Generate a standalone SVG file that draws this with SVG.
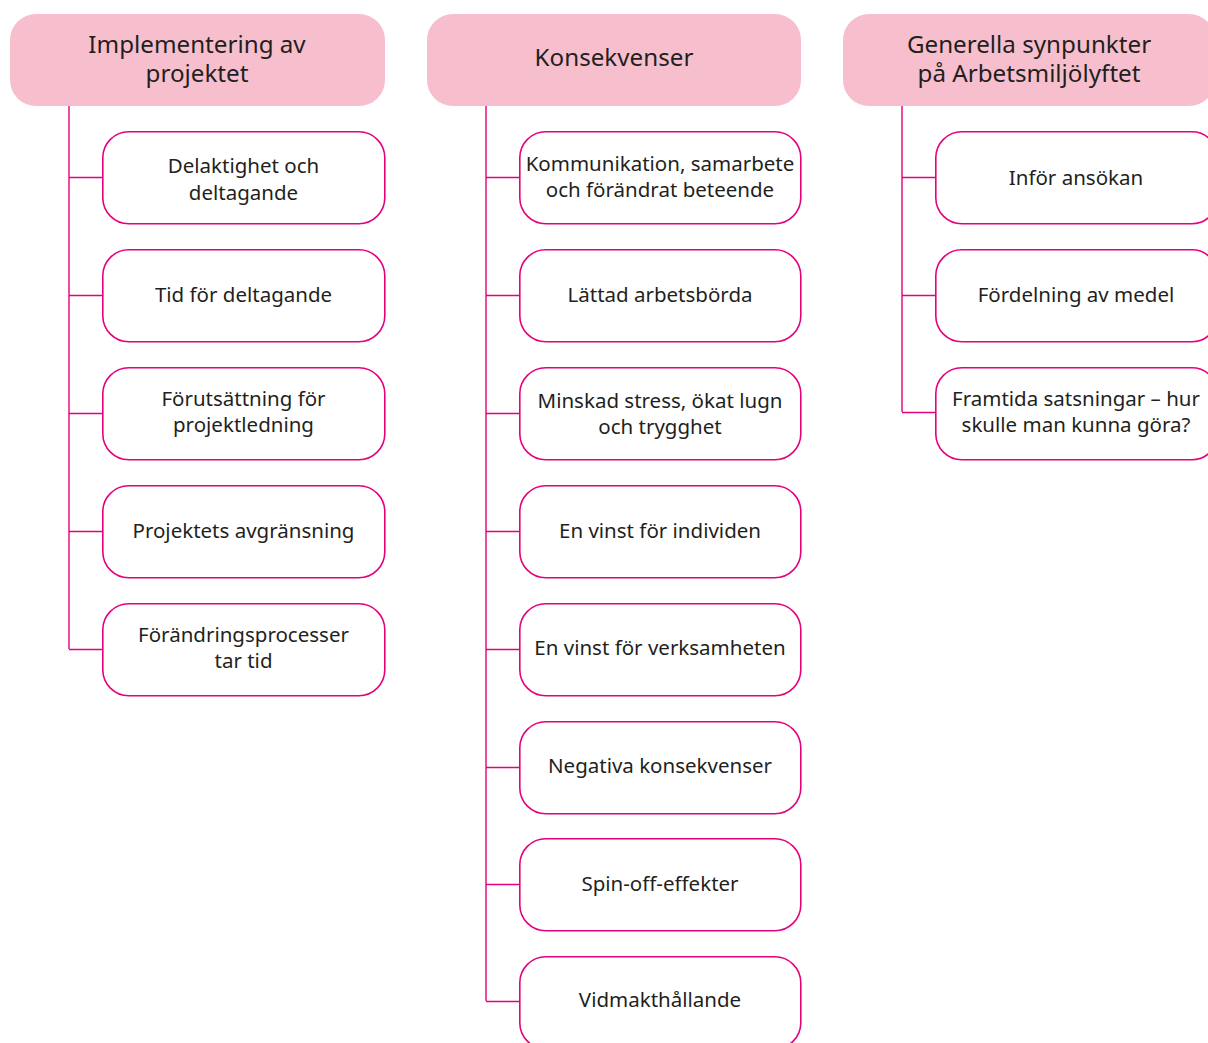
<svg xmlns="http://www.w3.org/2000/svg" width="1208" height="1043" viewBox="0 0 1208 1043">
<style>
.hdr{fill:#f7bfcd;stroke:none}
.box{fill:#ffffff;stroke:#e5007d;stroke-width:1.6}
.ln{fill:none;stroke:#e5007d;stroke-width:1.4}
text{font-family:"Noto Sans","Open Sans",sans-serif;fill:#231f20;text-anchor:middle}
.ht{font-size:24.2px}
.ct{font-size:20.5px}
</style>
<rect width="1208" height="1043" fill="#ffffff"/>
<g id="connectors">
<path class="ln" d="M69,106V649M69,177.5H102M69,295.5H102M69,413.5H102M69,531.5H102M69,649.5H102"/>
<path class="ln" d="M486,106V1001M486,177.5H519M486,295.5H519M486,413.5H519M486,531.5H519M486,649.5H519M486,767.5H519M486,884.5H519M486,1001.5H519"/>
<path class="ln" d="M902,106V412M902,177.5H935M902,295.5H935M902,412.5H935"/>
</g>
<g id="h1"><rect class="hdr" x="10" y="14" width="375" height="92" rx="26"/><text class="ht" x="197" y="53">Implementering av</text><text class="ht" x="197" y="82">projektet</text></g>
<g id="h2"><rect class="hdr" x="427" y="14" width="374" height="92" rx="26"/><text class="ht" x="614" y="66">Konsekvenser</text></g>
<g id="h3"><rect class="hdr" x="843" y="14" width="372" height="92" rx="26"/><text class="ht" x="1029" y="53">Generella synpunkter</text><text class="ht" x="1029" y="82">på Arbetsmiljölyftet</text></g>

<g id="a1"><rect class="box" x="102.8" y="131.8" width="282" height="92" rx="26"/><text class="ct" x="243.5" y="173">Delaktighet och</text><text class="ct" x="243.5" y="200">deltagande</text></g>
<g id="a2"><rect class="box" x="102.8" y="249.8" width="282" height="92" rx="26"/><text class="ct" x="243.5" y="302">Tid för deltagande</text></g>
<g id="a3"><rect class="box" x="102.8" y="367.8" width="282" height="92" rx="26"/><text class="ct" x="243.5" y="406">Förutsättning för</text><text class="ct" x="243.5" y="432">projektledning</text></g>
<g id="a4"><rect class="box" x="102.8" y="485.8" width="282" height="92" rx="26"/><text class="ct" x="243.5" y="538">Projektets avgränsning</text></g>
<g id="a5"><rect class="box" x="102.8" y="603.8" width="282" height="92" rx="26"/><text class="ct" x="243.5" y="642">Förändringsprocesser</text><text class="ct" x="243.5" y="668">tar tid</text></g>

<g id="b1"><rect class="box" x="519.8" y="131.8" width="281" height="92" rx="26"/><text class="ct" x="660" y="171">Kommunikation, samarbete</text><text class="ct" x="660" y="197">och förändrat beteende</text></g>
<g id="b2"><rect class="box" x="519.8" y="249.8" width="281" height="92" rx="26"/><text class="ct" x="660" y="302">Lättad arbetsbörda</text></g>
<g id="b3"><rect class="box" x="519.8" y="367.8" width="281" height="92" rx="26"/><text class="ct" x="660" y="408">Minskad stress, ökat lugn</text><text class="ct" x="660" y="434">och trygghet</text></g>
<g id="b4"><rect class="box" x="519.8" y="485.8" width="281" height="92" rx="26"/><text class="ct" x="660" y="538">En vinst för individen</text></g>
<g id="b5"><rect class="box" x="519.8" y="603.8" width="281" height="92" rx="26"/><text class="ct" x="660" y="655">En vinst för verksamheten</text></g>
<g id="b6"><rect class="box" x="519.8" y="721.8" width="281" height="92" rx="26"/><text class="ct" x="660" y="773">Negativa konsekvenser</text></g>
<g id="b7"><rect class="box" x="519.8" y="838.8" width="281" height="92" rx="26"/><text class="ct" x="660" y="891">Spin-off-effekter</text></g>
<g id="b8"><rect class="box" x="519.8" y="956.8" width="281" height="92" rx="26"/><text class="ct" x="660" y="1007">Vidmakthållande</text></g>

<g id="c1"><rect class="box" x="935.8" y="131.8" width="282" height="92" rx="26"/><text class="ct" x="1076" y="185">Inför ansökan</text></g>
<g id="c2"><rect class="box" x="935.8" y="249.8" width="282" height="92" rx="26"/><text class="ct" x="1076" y="302">Fördelning av medel</text></g>
<g id="c3"><rect class="box" x="935.8" y="367.8" width="282" height="92" rx="26"/><text class="ct" x="1076" y="406">Framtida satsningar – hur</text><text class="ct" x="1076" y="432">skulle man kunna göra?</text></g>
</svg>
